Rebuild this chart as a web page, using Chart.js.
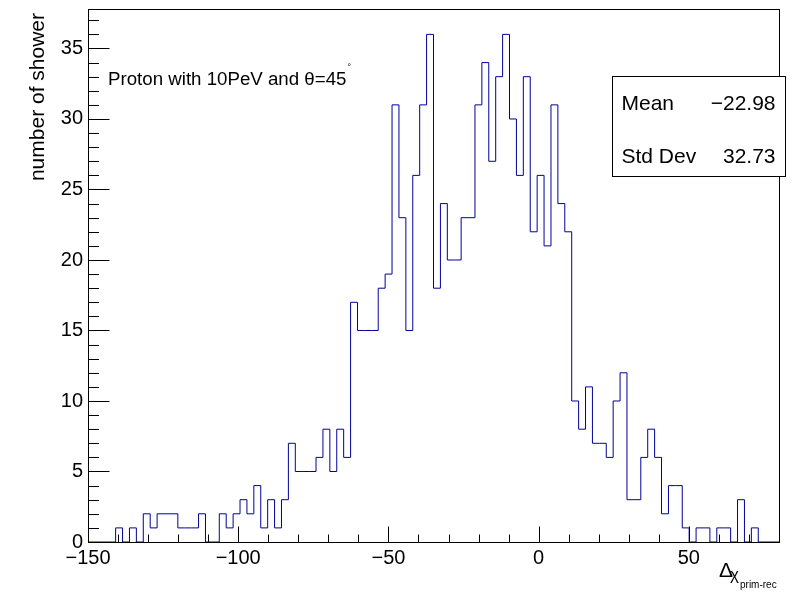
<!DOCTYPE html>
<html><head><meta charset="utf-8">
<script src="https://cdn.jsdelivr.net/npm/chart.js@4/dist/chart.umd.min.js"></script>
<style>html,body{margin:0;padding:0;background:#fff;overflow:hidden}#wrap{position:relative;width:795px;height:593px}</style>
</head><body><div id="wrap"><canvas id="c" width="795" height="593"></canvas></div>
<script>
// histogram bin contents (100 bins)
const counts = [
  0,0,0,0,1,0,1,0,2,1,
  2,2,2,1,1,1,2,0,0,2,
  1,2,3,2,4,1,3,1,3,7,
  5,5,5,6,8,5,8,6,17,15,
  15,15,18,19,31,23,15,26,31,36,
  18,24,20,20,23,23,31,34,27,33,
  36,30,26,33,22,26,21,31,24,22,
  10,8,11,7,7,6,10,12,3,3,
  6,8,6,2,4,4,1,0,1,1,
  0,1,1,0,3,0,1,0,0,0
];
const binLow = -150;
const binWidth = 2.3;
const xRange = [-150, 80];
const yRange = [0, 37.8];
const xTicks = [-150, -100, -50, 0, 50];
const yTicks = [0, 5, 10, 15, 20, 25, 30, 35];
const statsLabels = ['Mean', 'Std Dev'];
const statsValues = ['\u221222.98', '32.73'];
const titleText = 'Proton with 10PeV and \u03b8=45';
const yTitle = 'number of shower';

const FONT = '"Liberation Sans", Arial, Helvetica, sans-serif';
const LINE = '#000099';

// build step outline points: left edge of each bin, plus the right edge of the last bin
const pts = counts.map((v, i) => ({ x: binLow + i * binWidth, y: v }));
pts.push({ x: binLow + counts.length * binWidth, y: counts[counts.length - 1] });

const fmt = v => (v < 0 ? '\u2212' + Math.abs(v) : String(v));

const rootStyle = {
  id: 'rootStyle',
  afterDraw(chart) {
    const ctx = chart.ctx, a = chart.chartArea;
    const xs = chart.scales.x, ys = chart.scales.y;
    ctx.save();
    ctx.strokeStyle = '#000';
    ctx.lineWidth = 1;
    // frame
    const L = Math.round(a.left) + 0.5, R = Math.round(a.right) + 0.5;
    const T = Math.round(a.top) + 0.5, B = Math.round(a.bottom) + 0.5;
    ctx.strokeRect(L, T, R - L, B - T);
    // x ticks (inside)
    ctx.beginPath();
    for (let v = xRange[0]; v <= xRange[1] + 1e-9; v += 10) {
      const px = Math.round(xs.getPixelForValue(v)) + 0.5;
      const len = (Math.abs(v) % 50 === 0) ? 16 : 8;
      ctx.moveTo(px, B); ctx.lineTo(px, B - len);
    }
    // y ticks (inside)
    for (let v = 0; v <= yRange[1]; v += 1) {
      const py = Math.round(ys.getPixelForValue(v)) + 0.5;
      const len = (v % 5 === 0) ? 21 : 10.5;
      ctx.moveTo(L, py); ctx.lineTo(L + len, py);
    }
    ctx.stroke();

    ctx.fillStyle = '#000';
    // pad text
    ctx.font = '18.7px ' + FONT;
    ctx.textAlign = 'left'; ctx.textBaseline = 'alphabetic';
    ctx.fillText(titleText, 108, 85);
    const tw = ctx.measureText(titleText).width;
    ctx.font = '9px ' + FONT;
    ctx.fillText('\u00b0', 108 + tw + 1, 70);

    // y title
    ctx.save();
    ctx.translate(44, 13);
    ctx.rotate(-Math.PI / 2);
    ctx.font = '21px ' + FONT;
    ctx.textAlign = 'right'; ctx.textBaseline = 'alphabetic';
    ctx.fillText(yTitle, 0, 0);
    ctx.restore();

    // x title
    ctx.textAlign = 'left';
    ctx.font = '21px ' + FONT;
    ctx.fillText('\u0394', 719, 577);
    ctx.font = '17px ' + FONT;
    ctx.fillText('\u03c7', 730, 580);
    ctx.font = '10px ' + FONT;
    ctx.fillText('prim-rec', 740, 588);

    // stats box
    ctx.fillStyle = '#fff';
    ctx.fillRect(612.5, 76.5, 173, 100);
    ctx.strokeRect(612.5, 76.5, 173, 100);
    ctx.fillStyle = '#000';
    ctx.font = '21px ' + FONT;
    const rowsY = [110, 162.5];
    statsLabels.forEach((s, i) => {
      ctx.textAlign = 'left';
      ctx.fillText(s, 621.5, rowsY[i]);
      ctx.textAlign = 'right';
      ctx.fillText(statsValues[i], 775.5, rowsY[i]);
    });
    ctx.restore();
  }
};

new Chart(document.getElementById('c'), {
  type: 'line',
  data: {
    datasets: [{
      data: pts,
      stepped: 'before',
      borderColor: LINE,
      borderWidth: 1,
      pointRadius: 0,
      fill: false,
      tension: 0
    }]
  },
  options: {
    responsive: false,
    animation: false,
    devicePixelRatio: 1,
    layout: { padding: { left: 0, top: 9, right: 16, bottom: 0 } },
    plugins: { legend: { display: false }, tooltip: { enabled: false }, title: { display: false } },
    scales: {
      x: {
        type: 'linear', min: xRange[0], max: xRange[1],
        afterBuildTicks: s => { s.ticks = xTicks.map(v => ({ value: v })); },
        afterFit: s => { s.height = 51; s.paddingLeft = 0; s.paddingRight = 0; },
        grid: { display: false, drawTicks: false },
        border: { display: false },
        ticks: { color: '#000', font: { family: FONT, size: 20 }, padding: 4, maxRotation: 0, autoSkip: false, callback: fmt }
      },
      y: {
        type: 'linear', min: yRange[0], max: yRange[1],
        afterBuildTicks: s => { s.ticks = yTicks.map(v => ({ value: v })); },
        afterFit: s => { s.width = 88; s.paddingTop = 0; s.paddingBottom = 0; },
        grid: { display: false, drawTicks: false },
        border: { display: false },
        ticks: { color: '#000', font: { family: FONT, size: 20 }, padding: 5, autoSkip: false, callback: fmt }
      }
    }
  },
  plugins: [rootStyle]
});
</script></body></html>
